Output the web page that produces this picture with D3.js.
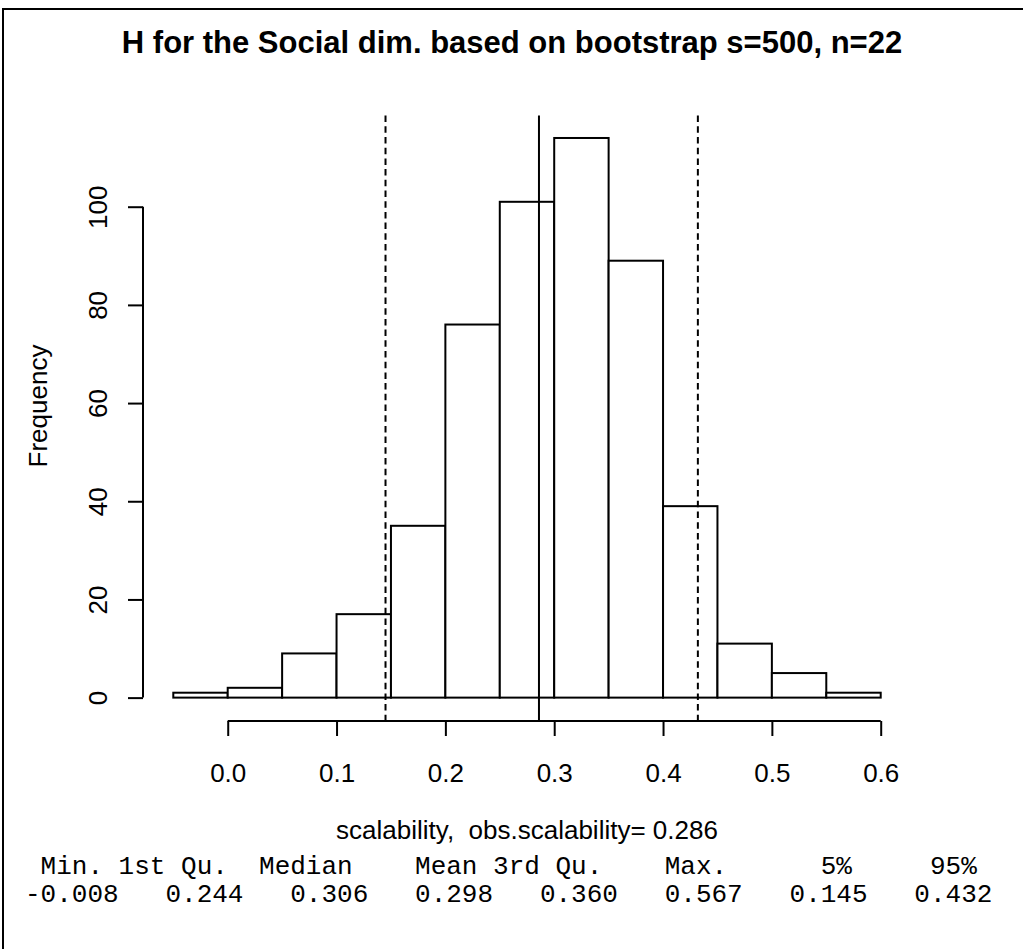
<!DOCTYPE html>
<html>
<head>
<meta charset="utf-8">
<script src="https://cdn.jsdelivr.net/npm/d3@7"></script>
<style>
  html, body { margin: 0; padding: 0; background: #fff; }
  svg { display: block; }
  text { fill: #000; }
</style>
</head>
<body>
<script>
// Bootstrap histogram of H (Social dimension), 500 resamples
const binStarts = [-0.05, 0.00, 0.05, 0.10, 0.15, 0.20, 0.25, 0.30, 0.35, 0.40, 0.45, 0.50, 0.55];
const binWidth = 0.05;
const counts = [1, 2, 9, 17, 35, 76, 101, 114, 89, 39, 11, 5, 1];

const xTicks = [0.0, 0.1, 0.2, 0.3, 0.4, 0.5, 0.6];
const yTicks = [0, 20, 40, 60, 80, 100];

const observed = 0.286;          // solid reference line
const interval = [0.145, 0.432]; // 5% and 95% quantiles (dashed)

const summaryNames  = ["Min.", "1st Qu.", "Median", "Mean", "3rd Qu.", "Max.", "5%", "95%"];
const summaryValues = ["-0.008", "0.244", "0.306", "0.298", "0.360", "0.567", "0.145", "0.432"];

const titleText = "H for the Social dim. based on bootstrap s=500, n=22";
const xLabel = "scalability,  obs.scalability= " + observed.toFixed(3);
const yLabel = "Frequency";

const W = 1023, H = 949;
const svg = d3.select("body").append("svg").attr("width", W).attr("height", H);

// outer frame
svg.append("rect")
  .attr("x", 3).attr("y", 9).attr("width", W + 20).attr("height", H + 20)
  .attr("fill", "none").attr("stroke", "#000").attr("stroke-width", 2);

// plot region with 4% padding on each axis
const xMin = -0.05, xMax = 0.6, yMax = d3.max(counts);
const xPad = (xMax - xMin) * 0.04, yPad = yMax * 0.04;
const x = d3.scaleLinear().domain([xMin - xPad, xMax + xPad]).range([145, 909]);
const y = d3.scaleLinear().domain([-yPad, yMax + yPad]).range([720, 115.6]);

const sans = "'Liberation Sans', Arial, Helvetica, sans-serif";
const mono = "'Liberation Mono', 'Courier New', monospace";

// bars
svg.append("g").selectAll("rect")
  .data(counts)
  .join("rect")
  .attr("x", (d, i) => x(binStarts[i]))
  .attr("y", d => y(d))
  .attr("width", (d, i) => x(binStarts[i] + binWidth) - x(binStarts[i]))
  .attr("height", d => y(0) - y(d))
  .attr("fill", "#fff")
  .attr("stroke", "#000")
  .attr("stroke-width", 2);

// reference lines across the plot region
const [yTop, yBottom] = [y.range()[1], y.range()[0]];
svg.append("line")
  .attr("x1", x(observed)).attr("x2", x(observed))
  .attr("y1", yTop).attr("y2", yBottom + 1)
  .attr("stroke", "#000").attr("stroke-width", 2);
svg.append("g").selectAll("line")
  .data(interval)
  .join("line")
  .attr("x1", d => x(d)).attr("x2", d => x(d))
  .attr("y1", yTop).attr("y2", yBottom)
  .attr("stroke", "#000").attr("stroke-width", 2)
  .attr("stroke-dasharray", "6.5,4.2");

// x axis
const xAxis = svg.append("g")
  .attr("transform", "translate(0,721)")
  .call(d3.axisBottom(x).tickValues(xTicks).tickFormat(d3.format(".1f")).tickSize(15).tickSizeOuter(0));
xAxis.select(".domain").attr("d", `M${x(xTicks[0])},0H${x(xTicks[xTicks.length - 1])}`);
xAxis.selectAll("line, path").attr("stroke", "#000").attr("stroke-width", 2);
xAxis.selectAll("text")
  .attr("y", 61).attr("dy", null)
  .style("font-family", sans).style("font-size", "26px");

// y axis
const yAxis = svg.append("g")
  .attr("transform", "translate(143,0)")
  .call(d3.axisLeft(y).tickValues(yTicks).tickSize(15).tickSizeOuter(0));
yAxis.select(".domain").attr("d", `M0,${y(yTicks[0])}V${y(yTicks[yTicks.length - 1])}`);
yAxis.selectAll("line, path").attr("stroke", "#000").attr("stroke-width", 2);
yAxis.selectAll("text")
  .attr("x", null).attr("dy", null)
  .attr("transform", "translate(-36.5,0) rotate(-90)")
  .attr("text-anchor", "middle")
  .style("font-family", sans).style("font-size", "26px");

// title
svg.append("text")
  .attr("x", 512).attr("y", 53)
  .attr("text-anchor", "middle")
  .style("font-family", sans).style("font-size", "31px").style("font-weight", "bold")
  .text(titleText);

// axis labels
svg.append("text")
  .attr("x", 527).attr("y", 839)
  .attr("text-anchor", "middle")
  .style("font-family", sans).style("font-size", "26px")
  .style("white-space", "pre")
  .text(xLabel);

svg.append("text")
  .attr("transform", "translate(47,406) rotate(-90)")
  .attr("text-anchor", "middle")
  .style("font-family", sans).style("font-size", "26px")
  .text(yLabel);

// printed summary, laid out as fixed-width columns
const headerLine = summaryNames.map(s => s.padStart(7)).join(" ").slice(2);
const valueLine = summaryValues.map((s, i) => i === 0 ? s : s.padStart(8)).join("");
[headerLine, valueLine].forEach((line, i) => {
  svg.append("text")
    .attr("x", 25)
    .attr("y", 874 + i * 28)
    .style("font-family", mono).style("font-size", "26px")
    .style("white-space", "pre")
    .text(line);
});
</script>
</body>
</html>
